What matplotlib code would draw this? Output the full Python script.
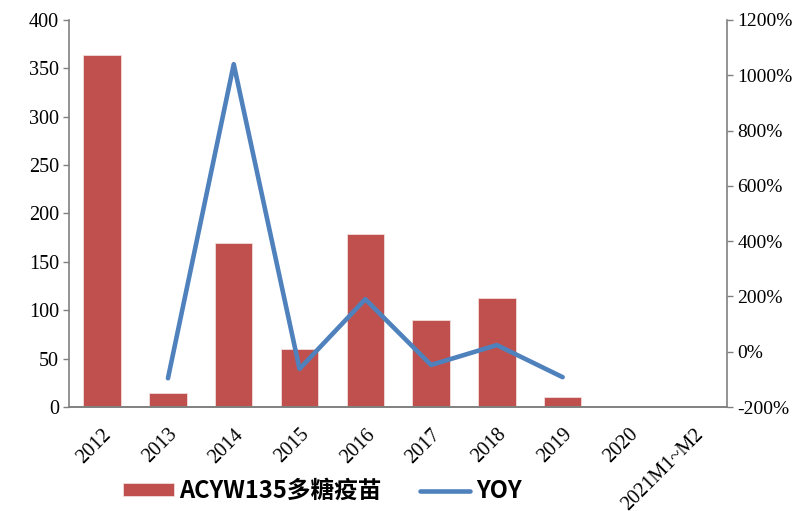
import matplotlib.pyplot as plt
from matplotlib.font_manager import FontProperties
import numpy as np

years = ['2012', '2013', '2014', '2015', '2016', '2017', '2018', '2019', '2020', '2021M1~M2']
batches = [364, 14, 169, 60, 179, 90, 113, 10.5, 0, 0]
yoy = [np.nan, -96, 1040, -62, 190, -48, 24, -92, np.nan, np.nan]

tick_font = FontProperties(family='Liberation Serif', size=14.5)
right_font = FontProperties(family='Liberation Serif', size=14)

fig = plt.figure(figsize=(7.92, 5.11), dpi=100)
ax = fig.add_axes([0.0875, 0.2035, 0.8305, 0.7574])
x = np.arange(len(years))

bars = ax.bar(x, batches, width=0.57, color='#C0504D', edgecolor='#F2DCDB', linewidth=0.6,
              label='ACYW135多糖疫苗', zorder=2)
ax.set_ylim(0, 400)
ax.set_yticks(range(0, 401, 50))
ax.set_yticklabels([str(v) for v in range(0, 401, 50)], fontproperties=tick_font)
ax.set_xlim(-0.5, len(years) - 0.5)
ax.set_xticks(x)
ax.set_xticklabels(years, rotation=45, ha='right', rotation_mode='anchor', fontproperties=tick_font)

ax2 = ax.twinx()
line, = ax2.plot(x, yoy, color='#4F81BD', linewidth=3.3, solid_capstyle='round',
                 solid_joinstyle='round', label='YOY', zorder=3)
ax2.set_ylim(-200, 1200)
ax2.set_yticks(range(-200, 1201, 200))
ax2.set_yticklabels([f'{v}%' for v in range(-200, 1201, 200)], fontproperties=right_font)

for a in (ax, ax2):
    a.spines['top'].set_visible(False)
    for s in ('left', 'right', 'bottom'):
        a.spines[s].set_color('#808080')
        a.spines[s].set_linewidth(1.2)
    a.tick_params(axis='y', colors='#808080', labelcolor='black', length=4, width=1)
ax.tick_params(axis='x', length=0, pad=13)
ax.spines['right'].set_visible(False)
ax2.spines['left'].set_visible(False)

fig.legend([bars, line], ['ACYW135多糖疫苗', 'YOY'], loc='center', bbox_to_anchor=(0.407, 0.039),
           ncol=2, frameon=False, handlelength=2.15, handleheight=0.5, columnspacing=1.6,
           handletextpad=0.25,
           prop={'family': ['Noto Sans CJK SC', 'DejaVu Sans'], 'weight': 'bold', 'size': 17})

fig.savefig('out.png', dpi=100)
